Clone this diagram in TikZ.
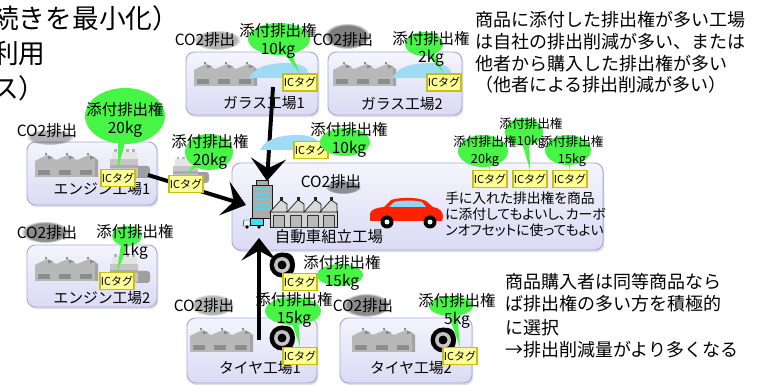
\documentclass[tikz,border=0pt]{standalone}
\usepackage{fontspec}
\setmainfont{Noto Sans CJK JP}
\newfontfamily\propfont{Noto Sans CJK JP}[RawFeature=+palt]
\usetikzlibrary{arrows.meta,shadows,fadings,fit,calc}

\definecolor{boxtop}{RGB}{245,245,253}
\definecolor{boxbot}{RGB}{218,218,244}
\definecolor{boxline}{RGB}{168,168,226}
\definecolor{tagfill}{RGB}{255,255,150}
\definecolor{tagline}{RGB}{200,190,20}
\definecolor{quotagreen}{RGB}{70,245,70}
\definecolor{fabric}{RGB}{184,184,184}
\definecolor{fabdark}{RGB}{140,140,140}
\definecolor{sheetblue}{RGB}{160,218,244}
\definecolor{carred}{RGB}{255,34,0}
\definecolor{winblue}{RGB}{140,215,250}
\definecolor{wincyan}{RGB}{60,225,240}

\tikzset{
  plant/.style={draw=boxline, line width=0.7pt, rounded corners=6pt,
    top color=boxtop, bottom color=boxbot, inner sep=0pt,
    drop shadow={shadow xshift=1pt, shadow yshift=-1.5pt, opacity=0.25}},
  plantname/.style={font=\fontsize{10.5}{12}\selectfont},
  co2/.style={inner sep=0pt, font=\fontsize{11}{13}\selectfont},
  smoke/.style={fill=black, path fading=circle with fuzzy edge 20 percent},
  tag/.style={draw=tagline, line width=1pt, fill=tagfill, minimum width=24pt,
    minimum height=12pt, inner sep=0pt, font=\fontsize{7.8}{9}\selectfont},
  bubble/.style={fill=quotagreen},
  amount/.style={align=center, inner sep=0pt, font=\fontsize{11}{12.8}\selectfont},
  smallamount/.style={align=center, inner sep=0pt, font=\fontsize{9}{12}\selectfont},
  flow/.style={line width=2.8pt, -{Stealth[length=16pt, width=25pt, inset=7pt]}},
  note/.style={align=left, anchor=west, inner sep=0pt, font=\fontsize{12.8}{15.4}\selectfont},
  % small saw-tooth factory, origin top left
  pics/factory/.style={code={
    \fill[fabric] (0,24) -- (0,8) -- (12,2) -- (21,7) -- (33,2) -- (42,7) -- (54,2) -- (60,5) -- (60,24) -- cycle;
    \fill[fabdark!80] (60,5) -- (63,7) -- (63,24) -- (60,24) -- cycle;
    \foreach \i in {0,21,42} {
      \fill[fabdark] (\i+13,2.5) -- (\i+18,4.5) -- (\i+13,6.5) -- cycle;
      \fill[fabdark] (\i+9.5,0) rectangle (\i+12,2.5);
      \fill[fabdark] (\i+3,17) rectangle (\i+15,22);
    }
  }},
  % glass sheet, origin bottom left
  pics/sheet/.style={code={
    \fill[sheetblue] (0,0) .. controls (6,-12) and (22,-15) .. (38,-15)
      .. controls (52,-15) and (60,-10) .. (60,-3) -- (58,0) -- cycle;
  }},
  % engine block, origin top left
  pics/engine/.style={code={
    \fill[gray!75, rounded corners=2pt] (24,19) rectangle (40,31);
    \fill[gray!45] (0,12) rectangle (28,30);
    \fill[gray!65] (0,18) rectangle (28,21);
    \fill[gray!20] (2,5) rectangle (27,12);
    \foreach \x in {4,10,16,22} \fill[gray!60] (\x,2) rectangle (\x+3,5);
  }},
  % tyre, origin at the hub
  pics/tyre/.style={code={
    \fill[black] (0,-12) -- (5,-12) arc[start angle=-90, end angle=90, x radius=8, y radius=12] -- (0,12) -- cycle;
    \fill[black] (0,0) circle (12.5);
    \shade[inner color=gray!15, outer color=gray!55] (0,0) circle (8);
    \fill[black] (0,0) circle (4.5);
  }},
}

\newcommand\quota[4]{% centre, x radius, y radius, tip
  \fill[bubble] #1 ellipse[x radius=#2, y radius=#3];
  \fill[bubble] ($#1!0.13!90:#4$) -- #4 -- ($#1!0.13!-90:#4$) -- cycle;
}

\begin{document}
\begin{tikzpicture}[x=0.025cm, y=-0.025cm]
\useasboundingbox (0,0) rectangle (762,385);

% heading, runs off the left edge
\node[anchor=west, align=left, inner sep=0pt, font=\fontsize{19}{24.9}\selectfont] (lead) at (-8,53) {続きを最小化）\\利用\\ス）};

% plants
\node[plant, fit={(186,52) (318,115)}] (glass1) {};
\node[plant, fit={(328,52) (462,115)}] (glass2) {};
\node[plant, fit={(27,142) (157,205)}] (engine1) {};
\node[plant, fit={(27,245) (157,307)}] (engine2) {};
\node[plant, fit={(232,163) (603,250)}] (assembly) {};
\node[plant, fit={(187,318) (317,383)}] (tyre1) {};
\node[plant, fit={(340,318) (472,383)}] (tyre2) {};

% emissions
\fill[smoke, opacity=0.3] (217,40) ellipse[x radius=24, y radius=10];
\fill[smoke, opacity=0.5] (347,36) ellipse[x radius=23, y radius=13];
\fill[smoke, opacity=0.3] (50,137) ellipse[x radius=24, y radius=8];
\fill[smoke, opacity=0.45] (45,232) ellipse[x radius=24, y radius=11];
\fill[smoke, opacity=0.4] (343,187) ellipse[x radius=18, y radius=7];
\fill[smoke, opacity=0.3] (212,305) ellipse[x radius=22, y radius=11];
\fill[smoke, opacity=0.45] (366,305) ellipse[x radius=24, y radius=12];
\node[co2] (co2G1) at (205,40) {CO2排出};
\node[co2] (co2G2) at (343,40) {CO2排出};
\node[co2] (co2E1) at (47,131) {CO2排出};
\node[co2] (co2E2) at (47,233) {CO2排出};
\node[co2] (co2A) at (331,182) {CO2排出};
\node[co2] (co2T1) at (204,306) {CO2排出};
\node[co2] (co2T2) at (363,306) {CO2排出};

% plant contents
\pic at (194,62) {factory};
\pic at (333,62) {factory};
\pic at (35,153) {factory};
\pic at (35,257) {factory};
\pic at (190,328) {factory};
\pic at (352,328) {factory};
\pic at (249,78) {sheet};
\pic at (392,78) {sheet};
\pic at (110,147) {engine};
\pic at (110,252) {engine};
\pic at (282,338) {tyre};
\pic at (443,340) {tyre};

% office block
\filldraw[fill=gray!65, draw=gray!20!black, line width=0.4pt] (256,180) rectangle (268,185);
\filldraw[fill=gray!65, draw=gray!20!black, line width=0.4pt] (252,185) rectangle (272,218);
\foreach \y in {188,193,198,203,208}
  \foreach \x in {255,260,265}
    \fill[wincyan] (\x,\y) rectangle (\x+3.5,\y+2.2);
% truck
\filldraw[fill=wincyan, draw=black, line width=0.3pt] (250,218) rectangle (263,225);
\filldraw[fill=gray!10, draw=black, line width=0.3pt] (244,220) -- (250,220) -- (250,226) -- (243,226) -- cycle;
\fill (247,227) circle (1.8);
\fill (259,227) circle (1.8);
% assembly hall
\filldraw[fill=gray!35, draw=gray!20!black, line width=0.4pt] (270,211) rectangle (337,227);
\foreach \x in {270,287,304,320} {
  \filldraw[fill=gray!30, draw=gray!20!black, line width=0.5pt] (\x,212) -- (\x+11,200) -- (\x+17,204) -- (\x+17,212) -- cycle;
  \fill[gray!30!black] (\x+10,197) rectangle (\x+13,201);
  \filldraw[fill=gray!55, draw=gray!40!black, line width=0.3pt] (\x+3,215) rectangle (\x+14,227);
}
% car
\fill[carred] (370,221) -- (370,214) .. controls (371,209) and (376,208) .. (384,207) -- (391,200)
  .. controls (400,197) and (418,197) .. (426,201) -- (433,207)
  .. controls (440,208) and (443,212) .. (443,217) -- (442,221) -- cycle;
\fill[winblue] (389,207) -- (394,202) .. controls (402,200) and (414,200) .. (422,202) -- (426,207) -- cycle;
\foreach \x in {387,430} {
  \fill[black] (\x,222) circle (6.5);
  \fill[white] (\x,222) circle (2.5);
}

% plant names
\node[plantname] (nameG1) at (264,103) {ガラス工場1};
\node[plantname] (nameG2) at (402,104) {ガラス工場2};
\node[plantname] (nameE1) at (102,189) {エンジン工場1};
\node[plantname] (nameE2) at (102,298) {エンジン工場2};
\node[font=\fontsize{11}{13}\selectfont] (nameA) at (329,237) {自動車組立工場};
\node[plantname] (nameT1) at (260,368) {タイヤ工場1};
\node[plantname] (nameT2) at (411,368) {タイヤ工場2};
\node[align=left, anchor=west, inner sep=0pt, font=\propfont\fontsize{9.8}{11.4}\selectfont] (use) at (445,214)
  {手に入れた排出権を商品\\に添付してもよいし、カーボ\\ンオフセットに使ってもよい};

% deliveries
\coordinate (gout) at (273,87);
\coordinate (gin) at (267,181);
\coordinate (eout) at (148,175);
\coordinate (ein) at (246,205);
\coordinate (tout) at (259,340);
\coordinate (tin) at (259,238);
\draw[flow] (gout) -- (gin);
\draw[flow] (eout) -- (ein);
\draw[flow] (tout) -- (tin);

% goods on the way
\pic at (260,150) {sheet};
\pic[scale=0.9] at (173,155) {engine};
\pic at (282,265) {tyre};

% IC tags
\node[tag] (tagG1) at (300,82.5) {ICタグ};
\node[tag] (tagG2) at (444,82.5) {ICタグ};
\node[tag] (tagE1) at (118,178) {ICタグ};
\node[tag] (tagEt) at (186,184) {ICタグ};
\node[tag] (tagE2) at (117,281) {ICタグ};
\node[tag] (tagGt) at (311,150) {ICタグ};
\node[tag] (tagA1) at (490,179) {ICタグ};
\node[tag] (tagA2) at (530,179) {ICタグ};
\node[tag] (tagA3) at (570,179) {ICタグ};
\node[tag] (tagTt) at (300,282) {ICタグ};
\node[tag] (tagT1) at (300,356) {ICタグ};
\node[tag] (tagT2) at (460,356) {ICタグ};

% attached credits
\quota{(279,39)}{31}{16}{(tagG1.north)}
\quota{(424,44)}{19}{12}{(tagG2.north)}
\quota{(125,116)}{40}{28}{(tagE1.north)}
\quota{(209,152)}{24}{18}{(tagEt.north)}
\quota{(127,236)}{15}{10}{(tagE2.north)}
\quota{(345,142)}{25}{14}{(tagGt.east)}
\quota{(483,151)}{25}{16}{(tagA1.north)}
\quota{(524,132)}{19}{14}{(tagA2.north)}
\quota{(568,150)}{23}{15}{(tagA3.north)}
\quota{(340,275)}{23}{11}{(tagTt.east)}
\quota{(293,311)}{28}{14}{(tagT1.north)}
\quota{(451,306)}{22}{10}{(tagT2.north)}
\node[amount] (qG1) at (278,41) {添付排出権\\10kg};
\node[amount] (qG2) at (431,49) {添付排出権\\2kg};
\node[amount] (qE1) at (125,120) {添付排出権\\20kg};
\node[amount] (qEt) at (210,152) {添付排出権\\20kg};
\node[amount] (qE2) at (135,242) {添付排出権\\1kg};
\node[amount] (qGt) at (349,140) {添付排出権\\10kg};
\node[smallamount] (qA1) at (485,151.5) {添付排出権\\20kg};
\node[smallamount] (qA2) at (531,133.5) {添付排出権\\10kg};
\node[smallamount] (qA3) at (572,151.5) {添付排出権\\15kg};
\node[amount] (qTt) at (342,272.5) {添付排出権\\15kg};
\node[amount] (qT1) at (294,309.5) {添付排出権\\15kg};
\node[amount] (qT2) at (457,310.5) {添付排出権\\5kg};

% notes
\node[note] (noteTop) at (475,52.5) {商品に添付した排出権が多い工場\\は自社の排出削減が多い、または\\他者から購入した排出権が多い\\（他者による排出削減が多い）};
\node[note] (noteBottom) at (505,315.5) {商品購入者は同等商品なら\\ば排出権の多い方を積極的\\[2pt]に選択\\→排出削減量がより多くなる};
\end{tikzpicture}
\end{document}
